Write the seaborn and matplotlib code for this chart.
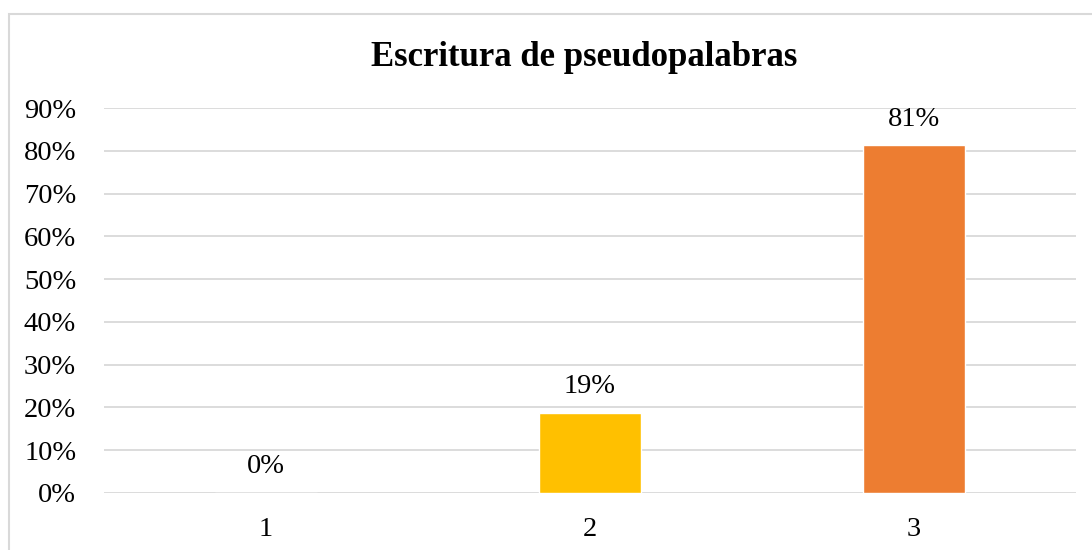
import matplotlib
matplotlib.use("Agg")
import matplotlib.pyplot as plt
import seaborn as sns
import pandas as pd
from matplotlib.patches import Rectangle
from matplotlib.ticker import FuncFormatter

categories = ["1", "2", "3"]
values = [0.0, 0.1875, 0.8125]
bar_labels = ["0%", "19%", "81%"]
colors = ["#4472C4", "#FFC000", "#ED7D31"]
title = "Escritura de pseudopalabras"

sns.set_theme(style="white")
plt.rcParams["font.family"] = ["Liberation Serif", "DejaVu Serif"]

df = pd.DataFrame({"cat": categories, "val": values})

fig = plt.figure(figsize=(10.92, 5.5), dpi=100)
ax = fig.add_axes([104 / 1092, 1 - 493 / 550, 972 / 1092, 385 / 550])

sns.barplot(data=df, x="cat", y="val", hue="cat", palette=colors,
            width=0.315, legend=False, ax=ax, saturation=1)

ax.set_ylim(0, 0.9)
ax.set_xlim(-0.5, 2.5)
ax.set_yticks([i / 10 for i in range(10)])
ax.yaxis.set_major_formatter(FuncFormatter(lambda v, p: f"{round(v*100):d}%"))
ax.grid(axis="y", color="#D9D9D9", linewidth=1.3)
ax.set_axisbelow(True)
for s in ax.spines.values():
    s.set_visible(False)
ax.tick_params(axis="y", length=0, pad=20, labelsize=20.5, labelcolor="#000000")
ax.tick_params(axis="x", length=0, pad=17, labelsize=20.5, labelcolor="#000000")
ax.set_xlabel("")
ax.set_ylabel("")

for i, (v, lab) in enumerate(zip(values, bar_labels)):
    ax.annotate(lab, (i, v), xytext=(0, 10), textcoords="offset points",
                ha="center", va="bottom", fontsize=20.5, color="#000000")

fig.text(584 / 1092, 1 - 57 / 550, title, ha="center", va="center",
         fontsize=25, fontweight="bold", color="#000000")

fig.patches.append(Rectangle((8.5 / 1092, -0.1), 1.2, (550 - 14) / 550 + 0.1,
                             transform=fig.transFigure, fill=False,
                             edgecolor="#D9D9D9", linewidth=1.5, zorder=0))

fig.savefig("out.png", dpi=100, facecolor="white")
